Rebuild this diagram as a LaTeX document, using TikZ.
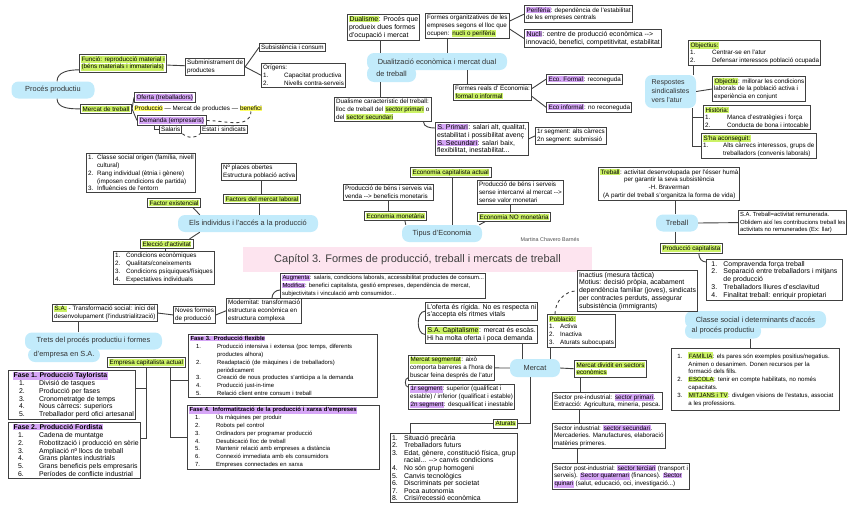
\documentclass[tikz,border=0pt]{standalone}
\usepackage{fontspec}
\setmainfont{Liberation Sans}
\usepackage{xcolor}
\usetikzlibrary{positioning}
\definecolor{bubble}{HTML}{C2EBFB}
\definecolor{hlgreen}{HTML}{CCF266}
\definecolor{hlpurple}{HTML}{D6A6F7}
\definecolor{hlyellow}{HTML}{FFFF66}
\definecolor{titlepink}{HTML}{FDE4EF}
\definecolor{edge}{HTML}{404040}
\setlength{\fboxsep}{0.5pt}
\newcommand{\hlg}[1]{\colorbox{hlgreen}{#1}}
\newcommand{\hlp}[1]{\colorbox{hlpurple}{#1}}
\newcommand{\hly}[1]{\colorbox{hlyellow}{#1}}
\newcommand{\nm}[2][9pt]{\makebox[#1][l]{#2}}

\begin{document}
\begin{tikzpicture}[x=1pt,y=-1pt,
  bx/.style={draw=edge,line width=0.9pt,fill=white,inner sep=1.6pt,anchor=north west,align=left,font=\fontsize{6.3}{7.8}\selectfont},
  wide/.style={font=\fontsize{6.9}{7.8}\selectfont},
  narrow/.style={font=\fontsize{5.9}{7.8}\selectfont},
  bub/.style={fill=bubble,rounded corners=7pt,inner xsep=4pt,inner ysep=2pt,minimum height=17pt,text=black!80,font=\fontsize{7.4}{9}\selectfont},
  txt/.style={inner sep=0pt,font=\fontsize{6.3}{7.8}\selectfont},
  titol/.style={fill=titlepink,inner sep=2pt,text=black!75,font=\fontsize{11}{13}\selectfont},
  cn/.style={draw=edge,line width=0.9pt},
  dcn/.style={cn,dashed}
]
\useasboundingbox (0,0) rectangle (848,530);

\node[bub,minimum width=83] (proc) at (53,90) {Procés productiu};
\node[bx] (funcio) at (79,54) {\hlg{Funció: reproducció material i}\\\hlg{(béns materials i immaterials)}};
\node[bx] (submin) at (185,58) {Subministrament de\\productes};
\node[bx] (subsist) at (259,43) {Subsistència i consum};
\node[bx] (origens) at (261,63) {Orígens:\\\nm[21pt]{1.}Capacitat productiva\\\nm[21pt]{2.}Nivells contra-serveis};
\node[bx] (mtreb) at (80,104) {\hlg{Mercat de treball}};
\node[bx] (ofer) at (134,92) {\hlp{Oferta (treballadors)}};
\node[txt,anchor=west] (prod) at (134,108.5) {\hly{Producció}};
\node[txt,right=1pt of prod] (mprod) {--- Mercat de productes ---};
\node[txt,right=1pt of mprod] (ben) {\hly{benefici}};
\node[bx] (deman) at (137,115) {\hlp{Demanda (empresaris)}};
\node[bx] (salar) at (159,125) {Salaris};
\node[bx] (estat) at (200,125) {Estat i sindicats};

\node[bx,wide] (dualis) at (347,14) {\hlg{Dualisme}: Procés que\\produeix dues formes\\d'ocupació i mercat};
\node[bx] (formes) at (425,13) {Formes organitzatives de les\\empreses segons el lloc que\\ocupen: \hlg{nucli o perifèria}};
\node[bx] (perif) at (524,5) {\hlp{Perifèria}: dependència de l'estabilitat\\de les empreses centrals};
\node[bx,wide] (nucli) at (524,29) {\hlp{Nucli}: centre de producció econòmica -{}->\\innovació, benefici, competitivitat, estabilitat};
\node[bub,minimum width=140] (dual) at (437,61.5) {Dualització econòmica i mercat dual};
\node[bub,minimum width=49,minimum height=16] (dual2) at (391.5,74) {de treball};
\node[bx] (dualcar) at (334,97) {Dualisme característic del treball:\\lloc de treball del \hlg{sector primari} o\\del \hlg{sector secundari}};
\node[bx] (freal) at (453,84) {Formes reals d' Economia:\\\hlg{formal o informal}};
\node[bx] (efor) at (546,74) {\hlp{Eco. Formal}: reconeguda};
\node[bx] (einf) at (546,102) {\hlp{Eco informal}: no reconeguda};
\node[bx,wide] (sprim) at (435,122) {\hlp{S. Primari}: salari alt, qualitat,\\estabilitat i possibilitat avenç\\\hlp{S. Secundari}: salari baix,\\flexibilitat, inestabilitat...};
\node[bx] (segm) at (535,127) {1r segment: alts càrrecs\\2n segment: submissió};

\node[bx] (objs) at (688,40) {\hlg{Objectius:}\\\nm[22pt]{1.}Centrar-se en l'atur\\\nm[22pt]{2.}Defensar interessos població ocupada};
\node[bub,minimum width=51,minimum height=33,align=left,font=\fontsize{7}{9}\selectfont] (resp) at (670.5,91.5) {Respostes\\sindicalistes\\vers l'atur};
\node[bx] (objv) at (712,76) {\hlg{Objectiu}: millorar les condicions\\laborals de la població activa i\\experiència en conjunt};
\node[bx] (hist) at (703,105) {\hlg{Història:}\\\nm[22pt]{1.}Manca d'estratègies i força\\\nm[22pt]{2.}Conducta de bona i intocable};
\node[bx] (acons) at (701,133) {\hlg{S'ha aconseguit:}\\\nm[20pt]{1.}Alts càrrecs interessos, grups de\\\nm[20pt]{}treballadors (convenis laborals)};

\node[bx] (origen) at (86,153) {\nm{1.}Classe social origen (família, nivell\\\nm{}cultural)\\\nm{2.}Rang individual (ètnia i gènere)\\\nm{}(imposen condicions de partida)\\\nm{3.}Influències de l'entorn};
\node[bx] (fexist) at (147,198) {\hlg{Factor existencial}};
\node[bub,minimum width=140] (indiv) at (248,223.5) {Els individus i l'accés a la producció};
\node[bx] (places) at (221,163) {Nº places obertes\\Estructura població activa};
\node[bx] (fmerc) at (223,194) {\hlg{Factors del mercat laboral}};
\node[bx] (elecc) at (140,239) {\hlg{Elecció d'activitat}};
\node[bx] (condi) at (113,251) {\nm[11pt]{1.}Condicions econòmiques\\\nm[11pt]{2.}Qualitats/coneixements\\\nm[11pt]{3.}Condicions psíquiques/físiques\\\nm[11pt]{4.}Expectatives individuals};

\node[bx] (ecap) at (410,167) {\hlg{Economia capitalista actual}};
\node[bx] (pmon) at (343,184) {Producció de béns i serveis via\\venda -{}-> beneficis monetaris};
\node[bx] (pnomon) at (477,180) {Producció de béns i serveis\\sense intercanvi al mercat -{}->\\sense valor monetari};
\node[bx] (emon) at (364,211) {\hlg{Economia monetària}};
\node[bx] (enomon) at (477,212) {\hlg{Economia NO monetària}};
\node[bub,minimum width=80] (tipus) at (442,233.5) {Tipus d'Economia};
\node[txt,text=black!70,font=\fontsize{5.4}{6}\selectfont] (autora) at (550,240) {Martina Chavero Barnés};
\node[titol,minimum width=349,minimum height=25] (cap) at (417.5,259.5) {Capítol 3. Formes de producció, treball i mercats de treball};

\node[bx,align=center] (trdef) at (598,167) {\hlg{Treball}: activitat desenvolupada per l'ésser humà\\per garantir la seva subsistència\\-H. Braverman\\(A partir del treball s'organitza la forma de vida)};
\node[bub,minimum width=42] (treb) at (677,223) {Treball};
\node[bx,narrow] (satreb) at (738,210) {S.A. Treball=activitat remunerada.\\Oblidem així les contribucions treball les\\activitats no remunerades (Ex: llar)};
\node[bx] (pcap) at (660,243) {\hlg{Producció capitalista}};
\node[bx,wide,inner xsep=5pt] (caplist) at (706,259) {\nm[12pt]{1.}Compravenda força treball\\\nm[12pt]{2.}Separació entre treballadors i mitjans\\\nm[12pt]{}de producció\\\nm[12pt]{3.}Treballadors lliures d'esclavitud\\\nm[12pt]{4.}Finalitat treball: enriquir propietari};
\node[bub,minimum width=141] (cls) at (755.5,319.5) {Classe social i determinants d'accés};
\node[bub,minimum width=76,minimum height=15] (cls2) at (723,331) {al procés productiu};
\node[bx,inner xsep=6pt,inner ysep=4pt,font=\fontsize{6.1}{7.8}\selectfont] (famil) at (671,348) {\nm[11pt]{1.}\hlg{FAMÍLIA}: els pares són exemples positius/negatius.\\\nm[11pt]{}Animen o desanimen. Donen recursos per la\\\nm[11pt]{}formació dels fills.\\\nm[11pt]{2.}\hlg{ESCOLA}: tenir en compte habilitats, no només\\\nm[11pt]{}capacitats.\\\nm[11pt]{3.}\hlg{MITJANS i TV}: divulgen visions de l'estatus, associat\\\nm[11pt]{}a les professions.};

\node[bx,narrow] (augm) at (280,273) {\hlp{Augmenta}: salaris, condicions laborals, accessibilitat productes de consum...\\\hlp{Modifica}: benefici capitalista, gestió empreses, dependència de mercat,\\subjectivitats i vinculació amb consumidor...};
\node[bx] (modern) at (226,298) {Modernitat: transformació\\estructura econòmica en\\estructura complexa};
\node[bx] (noves) at (173,306) {Noves formes\\de producció};
\node[bx] (satr) at (52,304) {\hlg{S.A.} - Transformació social: inici del\\desenvolupament (l'industrialització)};
\node[bub,minimum width=137] (trets) at (93.5,341) {Trets del procés productiu i formes};
\node[bub,minimum width=72,minimum height=14] (trets2) at (64,355) {d'empresa en S.A.};
\node[bx] (empr) at (107,357) {\hlg{Empresa capitalista actual}};
\node[bx,wide] (fase1) at (8,370) {\hspace{3pt}\hlp{\bfseries Fase 1. Producció Taylorista}\\\hspace{9pt}\nm[20pt]{1.}Divisió de tasques\\\hspace{9pt}\nm[20pt]{2.}Producció per fases\\\hspace{9pt}\nm[20pt]{3.}Cronometratge de temps\\\hspace{9pt}\nm[20pt]{4.}Nous càrrecs: superiors\\\hspace{9pt}\nm[20pt]{5.}Treballador perd ofici artesanal};
\node[bx,wide] (fase2) at (8,422) {\hspace{3pt}\hlp{\bfseries Fase 2. Producció Fordista}\\\hspace{8pt}\nm[21pt]{1.}Cadena de muntatge\\\hspace{8pt}\nm[21pt]{2.}Robotització i producció en sèrie\\\hspace{8pt}\nm[21pt]{3.}Ampliació nº llocs de treball\\\hspace{8pt}\nm[21pt]{4.}Grans plantes industrials\\\hspace{8pt}\nm[21pt]{5.}Grans beneficis pels empresaris\\\hspace{8pt}\nm[21pt]{6.}Períodes de conflicte industrial};
\node[bx,narrow,text width=186] (fase3) at (188,334) {\hlp{\bfseries Fase 3. Producció flexible}\\\hspace{6pt}\nm[21pt]{1.}Producció intensiva i extensa (poc temps, diferents\\\hspace{6pt}\nm[21pt]{}productes alhora)\\\hspace{6pt}\nm[21pt]{2.}Readaptació (de màquines i de treballadors)\\\hspace{6pt}\nm[21pt]{}periòdicament\\\hspace{6pt}\nm[21pt]{3.}Creació de nous productes s'anticipa a la demanda\\\hspace{6pt}\nm[21pt]{4.}Producció just-in-time\\\hspace{6pt}\nm[21pt]{5.}Relació client entre consum i treball};
\node[bx,narrow,text width=189] (fase4) at (187,405) {\hlp{\bfseries Fase 4. Informatització de la producció i xarxa d'empreses}\\\hspace{6pt}\nm[21pt]{1.}Ús màquines per produir\\\hspace{6pt}\nm[21pt]{2.}Robots pel control\\\hspace{6pt}\nm[21pt]{3.}Ordinadors per programar producció\\\hspace{6pt}\nm[21pt]{4.}Desubicació lloc de treball\\\hspace{6pt}\nm[21pt]{5.}Mantenir relació amb empreses a distància\\\hspace{6pt}\nm[21pt]{6.}Connexió immediata amb els consumidors\\\hspace{6pt}\nm[21pt]{7.}Empreses connectades en xarxa};

\node[bx,wide] (ofr) at (425,302) {L'oferta és rígida. No es respecta ni\\s'accepta els ritmes vitals};
\node[bx,wide] (sacap) at (425,325) {\hlg{S.A. Capitalisme}: mercat és escàs.\\Hi ha molta oferta i poca demanda};
\node[bx,wide] (inact) at (577,270) {Inactius (mesura tàctica)\\Motius: decisió pròpia, acabament\\dependència familiar (joves), sindicats\\per contractes perduts, assegurar\\subsistència (immigrants)};
\node[bx] (pobl) at (547,314) {\hlg{Població:}\\\nm[11pt]{1.}Activa\\\nm[11pt]{2.}Inactiva\\\nm[11pt]{3.}Aturats subocupats};
\node[bub,minimum width=50,minimum height=18] (merc) at (535,368) {Mercat};
\node[bx] (mseg) at (408,355) {\hlg{Mercat segmentat}: això\\comporta barreres a l'hora de\\buscar feina després de l'atur};
\node[bx] (segs) at (408,384) {\hlp{1r segment}: superior (qualificat i\\estable) / inferior (qualificat i estable)\\\hlp{2n segment}: desqualificat i inestable};
\node[bx] (atur) at (493,419) {\hlg{Aturats}};
\node[bx,font=\fontsize{6.9}{7.6}\selectfont] (aturl) at (390,433) {\nm[12pt]{1.}Situació precària\\\nm[12pt]{2.}Treballadors futurs\\\nm[12pt]{3.}Edat, gènere, constitució física, grup\\\nm[12pt]{}racial... -{}-> canvis condicions\\\nm[12pt]{4.}No són grup homogeni\\\nm[12pt]{5.}Canvis tecnològics\\\nm[12pt]{6.}Discriminats per societat\\\nm[12pt]{7.}Poca autonomia\\\nm[12pt]{8.}Crisi/recessió econòmica};
\node[bx] (mdiv) at (574,360) {\hlg{Mercat dividit en sectors}\\\hlg{econòmics}};
\node[bx] (spre) at (552,392) {Sector pre-industrial: \hlp{sector primari}.\\Extracció: Agricultura, mineria, pesca.};
\node[bx] (sind) at (552,423) {Sector industrial: \hlp{sector secundari}.\\Mercaderies. Manufactures, elaboració\\matèries primeres.};
\node[bx] (spost) at (552,463) {Sector post-industrial: \hlp{sector terciari} (transport i\\serveis). \hlp{Sector quaternari} (finances). \hlp{Sector}\\\hlp{quinari} (salut, educació, oci, investigació...)};

\draw[cn] (proc.65) to[out=90,in=180] ([yshift=3pt]funcio.south west);
\draw[cn] (proc.-65) to[out=-90,in=180] (mtreb.west);
\draw[cn] (funcio) -- (submin);
\draw[cn] (submin.east) -- (subsist.west);
\draw[cn] (submin.east) -- (origens.west);
\draw[cn] (mtreb.east) -- (ofer.west);
\draw[cn] (mtreb.east) -- (deman.west);
\draw[cn] ([xshift=-5pt]salar.west |- deman.south) |- (salar.west);
\draw[dcn] (deman.east) to[out=0,in=-90] (ben.south);
\draw[dcn] (salar.south east) to[out=-45,in=-135] (estat.south west);

\draw[cn] ([xshift=33pt]dualis.south west) -- ([xshift=33pt]dualis.south west |- dual.north);
\draw[cn] ([xshift=22pt]formes.south west) -- ([xshift=22pt]formes.south west |- dual.north);
\draw[cn] ([yshift=5pt]formes.east) -- (perif.west);
\draw[cn] ([yshift=-3pt]formes.east) -- (nucli.west);
\draw[cn] ([xshift=46pt]dualcar.north west |- dual2.south) -- ([xshift=46pt]dualcar.north west);
\draw[cn] ([xshift=14pt]freal.north west |- dual.south) -- ([xshift=14pt]freal.north west);
\draw[cn] ([yshift=4pt]freal.east) -- (efor.west);
\draw[cn] ([yshift=-4pt]freal.east) -- (einf.west);
\draw[cn] ([xshift=-8pt]dualcar.south east) to[out=-90,in=180] ([yshift=-6pt]sprim.north west);
\draw[cn] (sprim.east) -- (segm.west);

\draw[cn] ([xshift=5pt]objs.south west) -- ([xshift=5pt]objs.south west |- resp.north);
\draw[cn] (resp.east) -- (objv.west);
\draw[cn] ([xshift=-4pt]resp.south east) |- (hist.west);
\draw[cn] ([xshift=-4pt]resp.south east) |- (acons.west);

\draw[cn] ([xshift=-8pt]fexist.south east) -- ([xshift=22pt]indiv.north west);
\draw[cn] ([xshift=22pt]indiv.south west) -- ([xshift=-4pt]elecc.north east);
\draw[cn] ([xshift=25pt]elecc.south west) -- ([xshift=25pt]elecc.south west |- condi.north);
\draw[cn] ([xshift=40pt]places.south west) -- ([xshift=40pt]places.south west |- fmerc.north);
\draw[cn] ([xshift=36pt]fmerc.south west) -- ([xshift=36pt]fmerc.south west |- indiv.north);

\draw[cn] ([xshift=42pt]ecap.south west) -- ([xshift=42pt]ecap.south west |- tipus.north);
\draw[cn] ([xshift=45pt]pmon.south west) -- ([xshift=45pt]pmon.south west |- emon.north);
\draw[cn] ([xshift=33pt]pnomon.south west) -- ([xshift=33pt]pnomon.south west |- enomon.north);
\draw[cn] ([xshift=-22pt]emon.south east) -- ([xshift=4pt]tipus.north west);
\draw[cn] ([xshift=8pt]enomon.south west) -- ([xshift=-3pt]tipus.north east);

\draw[cn] ([xshift=77pt]trdef.south west) -- ([xshift=77pt]trdef.south west |- treb.north);
\draw[cn] (treb.east) -- (satreb.west);
\draw[cn] ([xshift=-2pt]treb.south) -- ([xshift=-2pt]treb.south |- pcap.north);
\draw[cn] ([xshift=-24pt]pcap.south east) to[out=-90,in=180] ([yshift=-3pt]caplist.north west);
\draw[cn] ([xshift=66pt]cls2.south west) -- ([xshift=66pt]cls2.south west |- famil.north);

\draw[cn] (satr.east) -- (noves.west);
\draw[cn] (noves.east) -- (modern.west);
\draw[cn] ([xshift=46pt]modern.north west) to[out=90,in=180] ([yshift=-17pt]augm.north west);
\draw[cn] ([xshift=26pt]satr.south west) -- ([xshift=26pt]satr.south west |- trets.north);
\draw[cn] (empr.south) |- ([yshift=7pt]fase1.east);
\draw[cn] (empr.south) |- ([yshift=12pt]fase2.east);
\draw[cn] ([xshift=24pt]empr.south) |- ([yshift=-15pt]fase3.west);
\draw[cn] ([xshift=24pt]empr.south) |- (fase4.west);

\draw[cn] (ofr.west) to[out=180,in=180] (sacap.west);
\draw[cn] ([xshift=-13pt]merc.north) -- ([xshift=-13pt]merc.north |- sacap.south);
\draw[cn] ([xshift=15pt]merc.north) -- ([xshift=15pt]merc.north |- pobl.south);
\draw[dcn] ([xshift=8pt]pobl.north west) to[out=90,in=180] (inact.west);
\draw[cn] (merc.west) -- (mseg.east);
\draw[cn] (merc.east) -- (mdiv.west);
\draw[cn] ([yshift=3pt]mseg.south west) to[out=180,in=180] ([yshift=-3pt]segs.north west);
\draw[cn] ([xshift=-5pt]merc.south) |- (atur.east);
\draw[cn] (atur.west) -| ([xshift=20pt]aturl.north west);
\draw[cn] ([xshift=6pt]mdiv.south west) -- ([xshift=6pt]mdiv.south west |- spre.north);
\draw[cn] ([xshift=27pt]spre.south west) -- ([xshift=27pt]spre.south west |- sind.north);
\draw[cn] ([xshift=25pt]sind.south west) -- ([xshift=25pt]sind.south west |- spost.north);
\end{tikzpicture}
\end{document}
